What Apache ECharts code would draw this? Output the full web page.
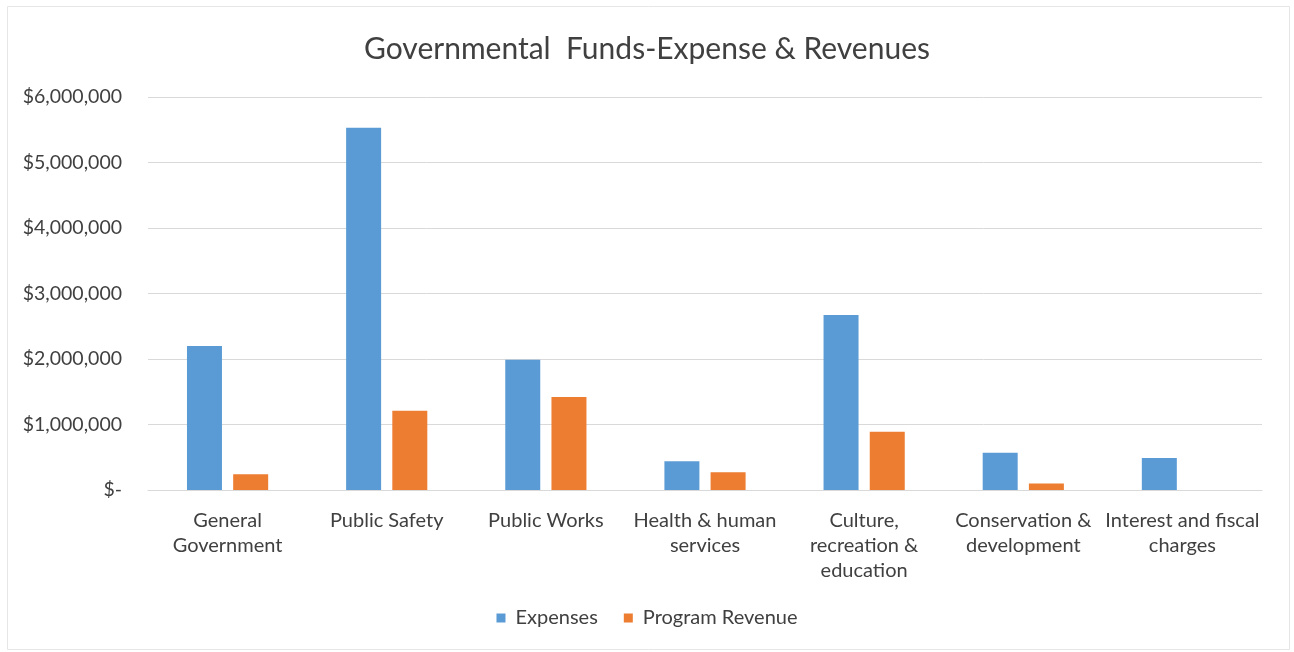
<!DOCTYPE html>
<html>
<head>
<meta charset="utf-8">
<script src="https://cdn.jsdelivr.net/npm/echarts@6/dist/echarts.min.js"></script>
<style>
html,body{margin:0;padding:0;background:#fff;}
#c{width:1294px;height:652px;}
</style>
</head>
<body>
<div id="c"></div>
<script>
var categories = ["General Government","Public Safety","Public Works","Health & human services","Culture, recreation & education","Conservation & development","Interest and fiscal charges"];
var categoryLabels = ["General\nGovernment","Public Safety","Public Works","Health & human\nservices","Culture,\nrecreation &\neducation","Conservation &\ndevelopment","Interest and fiscal\ncharges"];
var expenses = [2200000, 5530000, 1990000, 440000, 2670000, 570000, 490000];
var programRevenue = [240000, 1210000, 1420000, 270000, 890000, 100000, 0];
var yTicks = [0, 1000000, 2000000, 3000000, 4000000, 5000000, 6000000];

var chart = echarts.init(document.getElementById('c'));
var font = 'Lato, "Open Sans", sans-serif';
chart.setOption({
  backgroundColor: '#ffffff',
  animation: false,
  title: {
    text: 'Governmental  Funds-Expense & Revenues',
    left: 'center', top: 29,
    textStyle: {fontFamily: font, fontSize: 30, fontWeight: 'normal', color: '#404040'}
  },
  legend: {
    bottom: 19, left: 'center',
    itemWidth: 9, itemHeight: 9, itemGap: 26,
    icon: 'rect',
    textStyle: {fontFamily: font, fontSize: 20, color: '#404040', padding: [0, 0, 0, 5]},
    data: ['Expenses', 'Program Revenue']
  },
  grid: {left: 148, right: 32, top: 97, bottom: 162},
  xAxis: {
    type: 'category',
    data: categories,
    axisTick: {show: false},
    axisLine: {lineStyle: {color: '#d9d9d9'}},
    axisLabel: {
      interval: 0, margin: 18, lineHeight: 25,
      fontFamily: font, fontSize: 20, color: '#404040',
      formatter: function (v, i) { return categoryLabels[i]; }
    }
  },
  yAxis: {
    type: 'value',
    min: yTicks[0], max: yTicks[yTicks.length - 1], interval: 1000000,
    axisLine: {show: false}, axisTick: {show: false},
    splitLine: {lineStyle: {color: '#d9d9d9'}},
    axisLabel: {
      margin: 26, fontFamily: font, fontSize: 19.5, color: '#404040',
      formatter: function (v) {
        if (v === 0) return '$-';
        return '$' + v.toString().replace(/\B(?=(\d{3})+(?!\d))/g, ',');
      }
    }
  },
  series: [
    {name: 'Expenses', type: 'bar', data: expenses, barWidth: 35, barGap: '32%', itemStyle: {color: '#5B9BD5'}},
    {name: 'Program Revenue', type: 'bar', data: programRevenue, barWidth: 35, itemStyle: {color: '#ED7D31'}}
  ],
  graphic: [{
    type: 'rect', left: 5, top: 4, silent: true,
    shape: {width: 1282, height: 643},
    style: {fill: 'none', stroke: '#e6e6e6', lineWidth: 1}
  }]
});
</script>
</body>
</html>
